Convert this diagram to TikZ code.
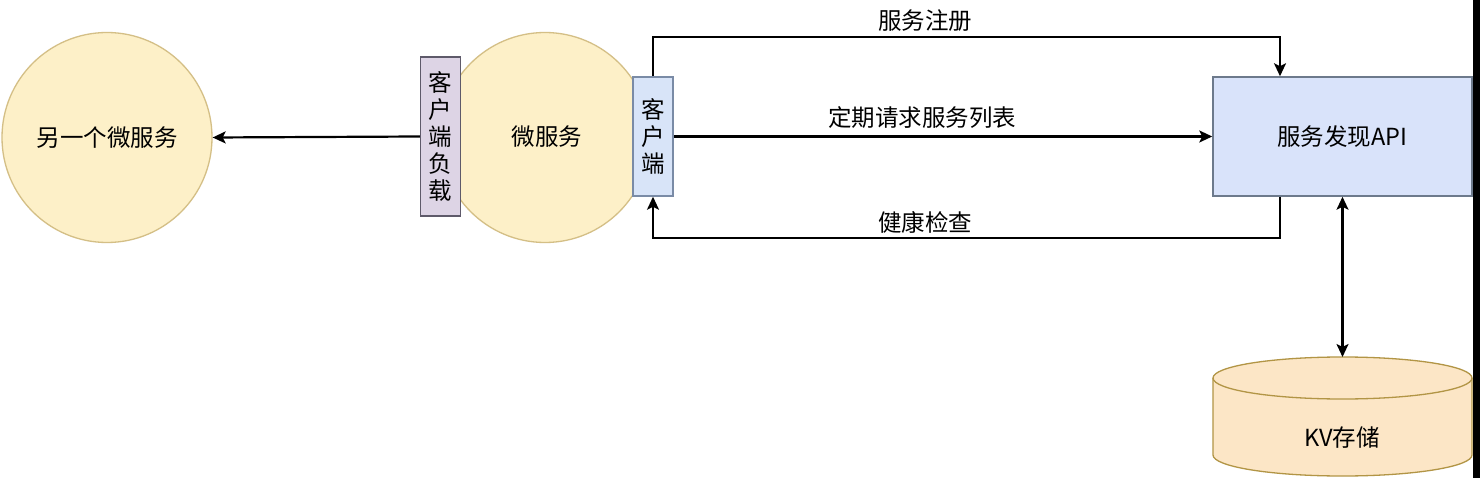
\documentclass[tikz,border=0pt]{standalone}
\usepackage{fontspec}
\setmainfont{Noto Sans CJK SC}
\usetikzlibrary{arrows.meta,shapes.geometric}
\definecolor{circfill}{HTML}{FDF0C8}
\definecolor{circdraw}{HTML}{D4BF86}
\definecolor{lbfill}{HTML}{DDD4E5}
\definecolor{lbdraw}{HTML}{5E5A6A}
\definecolor{clfill}{HTML}{D8E4F8}
\definecolor{cldraw}{HTML}{7A8BA6}
\definecolor{apifill}{HTML}{D9E3FA}
\definecolor{apidraw}{HTML}{6D7A8C}
\definecolor{cylfill}{HTML}{FCE6C6}
\definecolor{cyldraw}{HTML}{B29545}
\begin{document}
\begin{tikzpicture}[x=1pt,y=-1pt,
  every node/.style={font=\fontsize{23.5}{27}\selectfont, text=black},
  circ/.style={circle, draw=circdraw, fill=circfill, line width=1.3pt, minimum size=210pt, inner sep=0pt},
  lbbox/.style={rectangle, draw=lbdraw, fill=lbfill, line width=1.5pt, minimum width=40pt, minimum height=159pt, inner sep=0pt, align=center},
  clbox/.style={rectangle, draw=cldraw, fill=clfill, line width=1.5pt, minimum width=40pt, minimum height=119pt, inner sep=0pt, align=center},
  apibox/.style={rectangle, draw=apidraw, fill=apifill, line width=1.5pt, minimum width=259pt, minimum height=119pt, inner sep=0pt},
  cyl/.style={draw=cyldraw, fill=cylfill, line width=1.3pt},
  arr/.style={draw=black, line width=2.2pt, -{Stealth[length=13pt,width=12pt,inset=3pt]}},
  darr/.style={draw=black, line width=2.2pt, {Stealth[length=13pt,width=12pt,inset=3pt]}-{Stealth[length=13pt,width=12pt,inset=3pt]}},
  lbl/.style={inner sep=1pt}
]
\useasboundingbox[fill=white] (0,0) rectangle (1480,478);
\fill[black] (1473,0) rectangle (1480,478);

% circles
\node[circ] (other) at (107,137.5) {另一个微服务};
\node[circ] (ms) at (545,137.5) {};
\node at (547,137) (mstext) {微服务};

% boxes
\node[lbbox] (lb) at (440.5,136.5) {客\\户\\端\\负\\载};
\node[clbox] (cl) at (653,136.5) {客\\户\\端};
\node[apibox] (api) at (1342.5,136.5) {服务发现API};

% cylinder
\path[cyl] (1213,378) -- (1213,455) arc[x radius=129.5, y radius=21, start angle=180, end angle=0]
  -- (1472,378) arc[x radius=129.5, y radius=21, start angle=0, end angle=-180] -- cycle;
\draw[cyl, fill=none] (1213,378) arc[x radius=129.5, y radius=21, start angle=180, end angle=0];
\coordinate (kvtop) at (1342.5,357);
\node (kv) at (1342,438) {KV存储};

% connectors
\draw[arr] (lb.west) -- (other.east);
\draw[arr] (cl.east) -- (api.west);
\draw[arr] (cl.north) -- ++(0,-39) -| ([xshift=-62.5pt]api.north);
\draw[arr] ([xshift=-62.5pt]api.south) -- ++(0,41) -| (cl.south);
\draw[darr] (api.south) -- (kvtop);

% labels
\node[lbl] (reg) at (925,21) {服务注册};
\node[lbl] (list) at (922,118) {定期请求服务列表};
\node[lbl] (health) at (925,222) {健康检查};
\end{tikzpicture}
\end{document}
